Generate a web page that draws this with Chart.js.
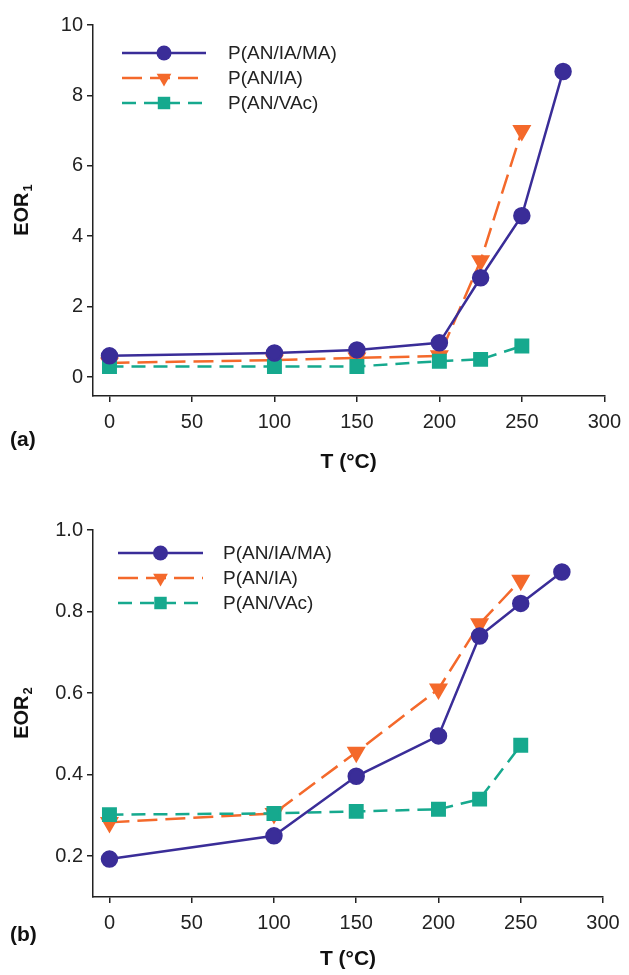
<!DOCTYPE html>
<html>
<head>
<meta charset="utf-8">
<script src="https://cdn.jsdelivr.net/npm/chart.js@4.4.0/dist/chart.umd.min.js"></script>
<style>
  body { margin: 0; background: #fff; width: 629px; height: 975px; overflow: hidden; position: relative; font-family: "Liberation Sans", Arial, sans-serif; }
  .box { position: absolute; left: 0; width: 629px; }
  .tag { position: absolute; left: 10px; font-weight: bold; font-size: 21px; color: #111; }
</style>
</head>
<body>
<div class="box" style="top:0;height:485px"><canvas id="chartA" width="629" height="485"></canvas></div>
<div class="box" style="top:485px;height:490px"><canvas id="chartB" width="629" height="490"></canvas></div>
<div class="tag" style="top:427px">(a)</div>
<div class="tag" style="top:922px">(b)</div>
<script>
// temperatures (x values)
var tempA = [0, 100, 150, 200, 225, 250, 275]
var tempB = [0, 100, 150, 200, 225, 250]

var names = ['P(AN/IA/MA)', 'P(AN/IA)', 'P(AN/VAc)']

// EOR1 (panel a)
var eor1_ma  = [0.6, 0.68, 0.77, 0.97, 2.82, 4.58, 8.68]
var eor1_ia  = [0.4, 0.48, 0.54, 0.6, 3.3, 7.0]
var eor1_vac = [0.3, 0.3, 0.3, 0.45, 0.5, 0.88]

// EOR2 (panel b)
var eor2_ma  = [0.193, 0.25, 0.396, 0.495, 0.74, 0.82, 0.897]
var eor2_ia  = [0.283, 0.305, 0.455, 0.61, 0.77, 0.877]
var eor2_vac = [0.302, 0.305, 0.31, 0.315, 0.34, 0.472]

var xTicks = [0, 50, 100, 150, 200, 250, 300]
var yTicksA = [0, 2, 4, 6, 8, 10]
var yTicksB = [0.2, 0.4, 0.6, 0.8, 1.0]

var purple = '#3a2d98'
var orange = '#f4692b'
var teal = '#16a98e'
var fontName = '"Liberation Sans", Arial, sans-serif'

function pts(xs, ys) {
    var out = []
    for (var i = 0; i < ys.length; i++) out.push({x: xs[i], y: ys[i]})
    return out
}

function makeSets(ma, ia, vac) {
    return [
        { label: names[0], data: pts(tempA, ma), borderColor: purple, backgroundColor: purple,
          borderWidth: 2.5, pointStyle: 'circle', pointRadius: 7.5, order: 1 },
        { label: names[1], data: pts(tempA, ia), borderColor: orange, backgroundColor: orange,
          borderWidth: 2.5, borderDash: [20, 8], pointStyle: 'triangle', rotation: 180, pointRadius: 8.5, order: 3 },
        { label: names[2], data: pts(tempB, vac), borderColor: teal, backgroundColor: teal,
          borderWidth: 2.5, borderDash: [14, 8], pointStyle: 'rect', pointRadius: 8.8, order: 2 }
    ]
}

// legend with line + marker, drawn by hand
var lineLegend = {
    id: 'lineLegend',
    afterDraw: function (chart, args, opts) {
        var ctx = chart.ctx
        chart.data.datasets.forEach(function (ds, i) {
            var y = opts.y + i * opts.gap
            ctx.save()
            ctx.strokeStyle = ds.borderColor
            ctx.lineWidth = 2.5
            ctx.setLineDash(ds.borderDash || [])
            ctx.beginPath()
            ctx.moveTo(opts.x1, y)
            ctx.lineTo(opts.x2, y)
            ctx.stroke()
            ctx.setLineDash([])
            ctx.fillStyle = ds.backgroundColor
            Chart.helpers.drawPoint(ctx, {pointStyle: ds.pointStyle, radius: ds.pointRadius, rotation: ds.rotation || 0, borderWidth: 0},
                (opts.x1 + opts.x2) / 2, y)
            ctx.fillStyle = '#222'
            ctx.font = '19px ' + fontName
            ctx.textBaseline = 'middle'
            ctx.fillText(ds.label, opts.tx, y + 1)
            ctx.restore()
        })
        // y title with a real subscript
        var area = chart.chartArea
        ctx.save()
        ctx.translate(opts.titleX, (area.top + area.bottom) / 2)
        ctx.rotate(-Math.PI / 2)
        ctx.fillStyle = '#111'
        ctx.textBaseline = 'alphabetic'
        ctx.font = 'bold 20px ' + fontName
        var w1 = ctx.measureText(opts.title).width
        ctx.font = 'bold 13px ' + fontName
        var w2 = ctx.measureText(opts.sub).width
        var x0 = -(w1 + w2) / 2
        ctx.font = 'bold 20px ' + fontName
        ctx.fillText(opts.title, x0, 7)
        ctx.font = 'bold 13px ' + fontName
        ctx.fillText(opts.sub, x0 + w1 + 1, 11)
        ctx.restore()
    }
}

function makeChart(id, sets, yMin, yMax, yTicks, yDigits, plotTop, plotBottom, plotRight, canvasH, titlePad, legend) {
    return new Chart(document.getElementById(id), {
        type: 'line',
        data: { datasets: sets },
        options: {
            responsive: false,
            animation: false,
            layout: { padding: { top: plotTop, right: 629 - plotRight, left: 0, bottom: 0 } },
            plugins: { legend: { display: false }, tooltip: { enabled: false }, lineLegend: legend },
            scales: {
                x: {
                    type: 'linear', min: -10, max: 300,
                    afterBuildTicks: function (s) { s.ticks = xTicks.map(function (v) { return {value: v} }) },
                    afterFit: function (s) { s.height = canvasH - plotBottom },
                    grid: { drawOnChartArea: false, color: '#222', tickLength: 6, lineWidth: 1.5 },
                    border: { color: '#222', width: 1.5 },
                    ticks: { color: '#222', padding: 8, maxRotation: 0, font: { family: fontName, size: 20 } },
                    title: { display: true, text: 'T (°C)', color: '#111', padding: { top: 0, bottom: titlePad },
                             font: { family: fontName, size: 21, weight: 'bold' } }
                },
                y: {
                    min: yMin, max: yMax,
                    afterBuildTicks: function (s) { s.ticks = yTicks.map(function (v) { return {value: v} }) },
                    afterFit: function (s) { s.width = 93 },
                    grid: { drawOnChartArea: false, color: '#222', tickLength: 6, lineWidth: 1.5 },
                    border: { color: '#222', width: 1.5 },
                    ticks: { color: '#222', padding: 4, font: { family: fontName, size: 20 },
                             callback: function (v) { return v.toFixed(yDigits) } }
                }
            }
        },
        plugins: [lineLegend]
    })
}

makeChart('chartA', makeSets(eor1_ma, eor1_ia, eor1_vac), -0.54, 10, yTicksA, 0,
    25, 396, 611, 485, 10, { x1: 122, x2: 206, tx: 228, y: 53, gap: 25, titleX: 21, title: 'EOR', sub: '1' })

makeChart('chartB', makeSets(eor2_ma, eor2_ia, eor2_vac), 0.1, 1.0, yTicksB, 1,
    45, 412, 603, 490, 3, { x1: 118, x2: 203, tx: 223, y: 68, gap: 25, titleX: 21, title: 'EOR', sub: '2' })
</script>
</body>
</html>
